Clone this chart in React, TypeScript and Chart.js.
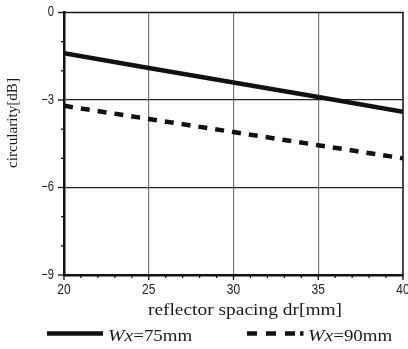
import React, { useEffect, useRef } from 'react';
import { Chart, registerables } from 'chart.js';

Chart.register(...registerables);

// ---- data ----
const spacing = [20, 25, 30, 35, 40];
const wx75 = [-1.4, -1.9, -2.4, -2.9, -3.4];
const wx90 = [-3.2, -3.65, -4.1, -4.55, -5.0];
const xTickValues = [20, 25, 30, 35, 40];
const yTickValues = [0, -3, -6, -9];
const seriesNames = ['=75mm', '=90mm'];
const seriesPrefix = 'Wx';
const xTitle = 'reflector spacing dr[mm]';
const yTitle = 'circularity[dB]';

const SERIF = '"Liberation Serif", "Times New Roman", serif';
const SANS = '"Liberation Sans", Arial, sans-serif';
const SX = 1.13;
const TICK_SX = 0.8;

function stretchedText(ctx: CanvasRenderingContext2D, text: string, x: number, y: number, sx: number) {
  ctx.save();
  ctx.translate(x, y);
  ctx.scale(sx, 1);
  ctx.fillText(text, 0, 0);
  ctx.restore();
}

const fmtY = (v: number) => (v < 0 ? '\u2212' + Math.abs(v) : String(v));

const decoPlugin = {
  id: 'deco',
  afterDraw(chart: any) {
    const { ctx, chartArea: a, scales } = chart;
    const xs = scales.x;
    const ys = scales.y;
    ctx.save();
    // top & right frame
    ctx.strokeStyle = '#111';
    ctx.lineWidth = 1.5;
    ctx.beginPath();
    ctx.moveTo(a.left, a.top);
    ctx.lineTo(a.right, a.top);
    ctx.lineTo(a.right, a.bottom);
    ctx.stroke();

    // tick marks
    ctx.lineWidth = 1.3;
    ctx.strokeStyle = '#111';
    for (let v = ys.min; v <= ys.max; v += 1) {
      const y = ys.getPixelForValue(v);
      const len = v % 3 === 0 ? 6 : 3;
      ctx.beginPath();
      ctx.moveTo(a.left - len, y);
      ctx.lineTo(a.left, y);
      ctx.stroke();
    }
    for (let v = xs.min; v <= xs.max; v += 1) {
      const x = xs.getPixelForValue(v);
      const len = v % 5 === 0 ? 5 : 3;
      ctx.beginPath();
      ctx.moveTo(x, a.bottom);
      ctx.lineTo(x, a.bottom + len);
      ctx.stroke();
    }

    // tick labels
    ctx.fillStyle = '#222';
    ctx.font = `15px ${SANS}`;
    ctx.textAlign = 'center';
    ctx.textBaseline = 'alphabetic';
    xTickValues.forEach((v) => {
      stretchedText(ctx, String(v), xs.getPixelForValue(v), 294, TICK_SX);
    });
    ctx.font = `14px ${SANS}`;
    ctx.textAlign = 'right';
    ctx.textBaseline = 'middle';
    yTickValues.forEach((v) => {
      stretchedText(ctx, fmtY(v), 54, ys.getPixelForValue(v), TICK_SX);
    });

    ctx.fillStyle = '#1a1a1a';
    // x title
    ctx.font = `17.5px ${SERIF}`;
    ctx.textAlign = 'center';
    ctx.textBaseline = 'alphabetic';
    stretchedText(ctx, xTitle, 245, 314.5, 1.11);

    // y title
    ctx.save();
    ctx.translate(13, 123);
    ctx.rotate(-Math.PI / 2);
    ctx.font = `15.5px ${SERIF}`;
    ctx.textAlign = 'center';
    ctx.textBaseline = 'middle';
    const natural = ctx.measureText(yTitle).width;
    ctx.scale(90 / natural, 1);
    ctx.fillText(yTitle, 0, 0);
    ctx.restore();

    // legend
    const ly = 333.5;
    ctx.strokeStyle = '#111';
    ctx.lineWidth = 4.5;
    ctx.beginPath();
    ctx.moveTo(47, ly);
    ctx.lineTo(103, ly);
    ctx.stroke();
    const dashStarts = [247, 266, 285];
    dashStarts.forEach((s) => {
      ctx.beginPath();
      ctx.moveTo(s, ly);
      ctx.lineTo(s + 10, ly);
      ctx.stroke();
    });
    ctx.beginPath();
    ctx.moveTo(300, ly);
    ctx.lineTo(303.5, ly);
    ctx.stroke();

    const drawLegendText = (x0: number, rest: string) => {
      ctx.textAlign = 'left';
      ctx.textBaseline = 'alphabetic';
      ctx.font = `italic 17.5px ${SERIF}`;
      const w1 = ctx.measureText(seriesPrefix).width * SX;
      stretchedText(ctx, seriesPrefix, x0, 341, SX);
      ctx.font = `17.5px ${SERIF}`;
      stretchedText(ctx, rest, x0 + w1, 341, 1.08);
    };
    drawLegendText(108, seriesNames[0]);
    drawLegendText(308, seriesNames[1]);

    ctx.restore();
  },
};

export default function App() {
  const ref = useRef<HTMLCanvasElement | null>(null);

  useEffect(() => {
    if (!ref.current) return;
    const chart = new Chart(ref.current, {
      type: 'line',
      data: {
        datasets: [
          {
            label: 'Wx=75mm',
            data: spacing.map((x, i) => ({ x, y: wx75[i] })),
            borderColor: '#111',
            borderWidth: 4.5,
            pointRadius: 0,
            fill: false,
            tension: 0,
          },
          {
            label: 'Wx=90mm',
            data: spacing.map((x, i) => ({ x, y: wx90[i] })),
            borderColor: '#111',
            borderWidth: 4.5,
            borderDash: [9, 8],
            pointRadius: 0,
            fill: false,
            tension: 0,
          },
        ],
      },
      options: {
        animation: false,
        responsive: false,
        maintainAspectRatio: false,
        layout: { padding: { left: 0, right: 5, top: 12.5, bottom: 0 } },
        plugins: {
          legend: { display: false },
          tooltip: { enabled: false },
        },
        scales: {
          x: {
            type: 'linear',
            min: 20,
            max: 40,
            afterFit: (s: any) => {
              s.height = 74;
            },
            afterBuildTicks: (s: any) => {
              s.ticks = xTickValues.map((v) => ({ value: v }));
            },
            ticks: { display: false },
            grid: {
              drawTicks: false,
              lineWidth: 1.2,
              color: (c: any) => (c.tick && (c.tick.value === 20 || c.tick.value === 40) ? 'rgba(0,0,0,0)' : '#777'),
            },
            border: { display: true, color: '#111', width: 2.5 },
          },
          y: {
            type: 'linear',
            min: -9,
            max: 0,
            afterFit: (s: any) => {
              s.width = 64;
            },
            afterBuildTicks: (s: any) => {
              s.ticks = yTickValues.map((v) => ({ value: v }));
            },
            ticks: { display: false },
            grid: {
              drawTicks: false,
              lineWidth: 1.2,
              color: (c: any) => (c.tick && (c.tick.value === 0 || c.tick.value === -9) ? 'rgba(0,0,0,0)' : '#222'),
            },
            border: { display: true, color: '#111', width: 2.5 },
          },
        },
      },
      plugins: [decoPlugin],
    });
    return () => chart.destroy();
  }, []);

  return (
    <div style={{ position: 'fixed', left: 0, top: 0, width: 408, height: 349, background: '#fff' }}>
      <canvas ref={ref} width={408} height={349} style={{ width: 408, height: 349, display: 'block' }} />
    </div>
  );
}
